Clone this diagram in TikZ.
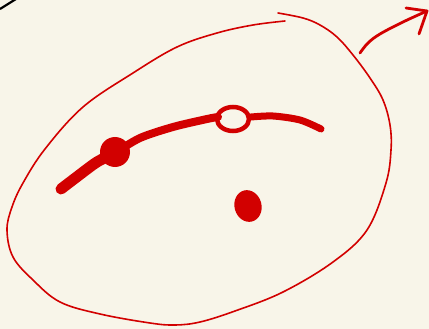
\documentclass[tikz,border=0pt]{standalone}
\usetikzlibrary{calc}
\definecolor{bg}{HTML}{F8F5E9}
\definecolor{ink}{HTML}{D20000}
\tikzset{
  loopline/.style={draw=ink, line width=1.6pt, line cap=round, line join=round},
  thick stroke/.style={draw=ink, line cap=round, line join=round},
  arrowline/.style={draw=ink, line width=2.8pt, line cap=round, line join=round},
}
\begin{document}
\begin{tikzpicture}[x=1pt,y=-1pt]
\fill[bg] (0,0) rectangle (429,329);
\useasboundingbox (0,0) rectangle (429,329);
% black corner line
\draw[black, line width=2.2pt] (0,9) -- (16,-1);
% outer loop
\draw[loopline] plot[smooth, tension=0.6] coordinates {
 (278,13) (303,18) (320,25) (337,37) (353,55) (370,78) (383,100) (390,125) (391,150)
 (386,183) (367,230) (333,262) (283,292) (235,311) (200,322) (175,325) (150,323) (100,314)
 (60,302) (33,280) (13,257) (7,230) (12,207) (23,183) (45,149) (83,107) (133,73)
 (177,47) (217,33) (253,25) (285,21)};
% arrow
\draw[arrowline] plot[smooth, tension=0.6] coordinates {(360,53) (368,43) (380,34) (403,22) (427,11)};
\draw[arrowline] (406,8) -- (427,11) -- (419,34);
% thick curve
\draw[thick stroke, line width=11pt] plot[smooth] coordinates {(61,189) (78,176) (97,162) (115,153)};
\draw[thick stroke, line width=8pt] plot[smooth] coordinates {(115,153) (140,138) (173,127) (207,119) (218,117)};
\draw[thick stroke, line width=7pt] plot[smooth] coordinates {(251,117) (273,116) (300,120) (321,129)};
\fill[ink] (115,152) ellipse [x radius=15, y radius=15];
\draw[ink, line width=4.5pt] (233,119) ellipse [x radius=16, y radius=12];
\fill[ink, rotate around={15:(248,206)}] (248,206) ellipse [x radius=13.5, y radius=16];
\end{tikzpicture}
\end{document}
